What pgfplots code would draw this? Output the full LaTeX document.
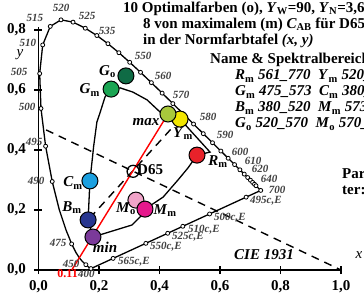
\documentclass[border=0pt]{standalone}
\usepackage{pgfplots}
\pgfplotsset{compat=1.18}
\usepackage{fontspec}
\setmainfont{Liberation Serif}
\definecolor{cGo}{HTML}{0F6B45}
\definecolor{cGm}{HTML}{1BA553}
\definecolor{cmax}{HTML}{A8C83C}
\definecolor{cYm}{HTML}{F2E600}
\definecolor{cRm}{HTML}{E8222A}
\definecolor{cCm}{HTML}{1CA0E0}
\definecolor{cBm}{HTML}{283690}
\definecolor{cmin}{HTML}{7B3A9A}
\definecolor{cMo}{HTML}{F0A3C8}
\definecolor{cMm}{HTML}{E5188C}
\definecolor{wl}{HTML}{404040}
\newcommand{\fs}[1]{\fontsize{#1}{#1}\selectfont}
\newcommand{\lab}[2]{\textbf{\textit{#1}\textsubscript{#2}}}
\pgfplotstableread{
x y
0.1741 0.0050
0.1733 0.0048
0.1726 0.0048
0.1714 0.0051
0.1703 0.0058
0.1689 0.0069
0.1669 0.0086
0.1644 0.0109
0.1611 0.0138
0.1566 0.0177
0.1510 0.0227
0.1440 0.0297
0.1355 0.0399
0.1241 0.0578
0.1096 0.0868
0.0913 0.1327
0.0687 0.2007
0.0454 0.2950
0.0235 0.4127
0.0082 0.5384
0.0039 0.6548
0.0139 0.7502
0.0389 0.8120
0.0743 0.8338
0.1142 0.8262
0.1547 0.8059
0.1929 0.7816
0.2296 0.7543
0.2658 0.7243
0.3016 0.6923
0.3373 0.6589
0.3731 0.6245
0.4087 0.5896
0.4441 0.5547
0.4788 0.5202
0.5125 0.4866
0.5448 0.4544
0.5752 0.4242
0.6029 0.3965
0.6270 0.3725
0.6482 0.3514
0.6658 0.3340
0.6801 0.3197
0.6915 0.3083
0.7006 0.2993
0.7079 0.2920
0.7140 0.2859
0.7190 0.2809
0.7230 0.2770
0.7260 0.2740
0.7300 0.2700
0.7320 0.2680
0.7334 0.2666
0.7347 0.2653
}\locus
\pgfplotstableread{
x y
0.1733 0.0048
0.1566 0.0177
0.1096 0.0868
0.0454 0.2950
0.0235 0.4127
0.0082 0.5384
0.0039 0.6548
0.0139 0.7502
0.0389 0.8120
0.0743 0.8338
0.1142 0.8262
0.1547 0.8059
0.1929 0.7816
0.2296 0.7543
0.2658 0.7243
0.3016 0.6923
0.3373 0.6589
0.3731 0.6245
0.4087 0.5896
0.4441 0.5547
0.4788 0.5202
0.5125 0.4866
0.5448 0.4544
0.5752 0.4242
0.6029 0.3965
0.6270 0.3725
0.6482 0.3514
0.6658 0.3340
0.6801 0.3197
0.6915 0.3083
0.7006 0.2993
0.7079 0.2920
0.7140 0.2859
0.7190 0.2809
0.7347 0.2653
0.2466 0.0387
0.3549 0.0889
0.4270 0.1224
0.4771 0.1457
0.5656 0.1868
0.6863 0.2428
}\marks
\begin{document}
\begin{tikzpicture}
\path[use as bounding box, clip] (0,0) rectangle (364pt,295pt);
\begin{axis}[at={(38.5pt,25pt)}, anchor=origin, x=302.5pt, y=300pt,
  xmin=0, xmax=1, ymin=0, ymax=0.81,
  axis x line=bottom, axis y line=left,
  axis line style={-, line width=1.3pt},
  clip=false,
  xtick={0,0.2,0.4,0.6,0.8,1.0}, ytick={0,0.2,0.4,0.6,0.8},
  xticklabels={{0,0},{0,2},{0,4},{0,6},{0,8},{1,0}},
  yticklabels={{0,0},{0,2},{0,4},{0,6},{0,8}},
  tick align=center, major tick length=8pt,
  tick style={line width=1.3pt, black},
  xticklabel style={font=\bfseries\fs{15}, yshift=-3pt},
  yticklabel style={font=\bfseries\fs{15}, xshift=-5pt},
]
% spectral locus and purple line
\addplot[black, line width=1.3pt] table {\locus};
\addplot[black, line width=1.3pt] coordinates {(0.1741,0.0050) (0.7347,0.2653)};
% optimal colour curves
\addplot[black, line width=1.3pt] coordinates {(0.240,0.603) (0.270,0.607) (0.312,0.593) (0.359,0.567) (0.395,0.533) (0.412,0.517) (0.428,0.520)};
\addplot[black, line width=1.3pt] coordinates {(0.240,0.603) (0.220,0.577) (0.203,0.523) (0.193,0.493) (0.182,0.41) (0.180,0.39) (0.170,0.297) (0.164,0.167) (0.180,0.110)};
\addplot[black, line width=1.3pt] coordinates {(0.180,0.110) (0.309,0.150) (0.336,0.177) (0.352,0.203)};
\addplot[black, line width=1.3pt] coordinates {(0.352,0.203) (0.412,0.243) (0.461,0.300) (0.494,0.340) (0.524,0.383)};
\addplot[black, line width=1.3pt] coordinates {(0.524,0.383) (0.567,0.393) (0.468,0.503)};
% dashed lines
\addplot[black, line width=1.4pt, dash pattern=on 8pt off 6pt] coordinates {(0.025,0.467) (1.0,0.0)};
\addplot[black, line width=1.4pt, dash pattern=on 8pt off 6pt] coordinates {(0.468,0.503) (0.164,0.167)};
% markers on locus
\addplot[only marks, mark=*, mark size=2pt, mark options={fill=white, draw=black, line width=0.8pt}] table {\marks};
% coloured circles
\addplot[only marks, mark=*, mark size=8pt, mark options={fill=cGo, draw=black, line width=1pt}] coordinates {(0.289,0.647)};
\addplot[only marks, mark=*, mark size=8pt, mark options={fill=cGm, draw=black, line width=1pt}] coordinates {(0.240,0.603)};
\addplot[only marks, mark=*, mark size=8pt, mark options={fill=cYm, draw=black, line width=1pt}] coordinates {(0.468,0.503)};
\addplot[only marks, mark=*, mark size=8pt, mark options={fill=cmax, draw=black, line width=1pt}] coordinates {(0.428,0.520)};
\addplot[only marks, mark=*, mark size=8pt, mark options={fill=cRm, draw=black, line width=1pt}] coordinates {(0.524,0.383)};
\addplot[only marks, mark=*, mark size=8pt, mark options={fill=cCm, draw=black, line width=1pt}] coordinates {(0.170,0.297)};
\addplot[only marks, mark=*, mark size=8pt, mark options={fill=cBm, draw=black, line width=1pt}] coordinates {(0.164,0.167)};
\addplot[only marks, mark=*, mark size=8pt, mark options={fill=cmin, draw=black, line width=1pt}] coordinates {(0.180,0.110)};
\addplot[only marks, mark=*, mark size=8pt, mark options={fill=cMo, draw=black, line width=1pt}] coordinates {(0.322,0.233)};
\addplot[only marks, mark=*, mark size=8pt, mark options={fill=cMm, draw=black, line width=1pt}] coordinates {(0.352,0.203)};
% red line
\addplot[red, line width=1.4pt] coordinates {(0.11,0.0) (0.428,0.520)};
% D65
\addplot[only marks, mark=o, mark size=6pt, mark options={draw=black, line width=1.3pt}] coordinates {(0.3127,0.3290)};
\end{axis}
\begin{scope}[x=1pt, y=-1pt, shift={(0,295pt)}]
\tikzset{w/.style={font=\bfseries\itshape\fs{11}, text=wl, inner sep=0pt}}
\node[w] at (35,18) {515};
\node[w] at (61,8) {520};
\node[w] at (87,16) {525};
\node[w] at (107,31) {535};
\node[w] at (143,56) {550};
\node[w] at (163,76) {560};
\node[w] at (181,95) {570};
\node[w] at (208,117) {580};
\node[w] at (225,135) {590};
\node[w] at (240,152) {600};
\node[w] at (253,161) {610};
\node[w] at (260,169) {620};
\node[w] at (269,179) {640};
\node[w] at (277,190) {700};
\node[w] at (28,43) {510};
\node[w] at (19,72) {505};
\node[w] at (27,107) {500};
\node[w] at (34,142) {495};
\node[w] at (36,181) {490};
\node[w] at (58,243) {475};
\node[w] at (71,264) {450};
\node[w, anchor=west] at (78,274) {400};
\node[font=\bfseries\fs{12}, text=red, inner sep=0pt, anchor=east] at (78,274) {0.11};
\node[w, anchor=west] at (118,262) {565c,E};
\node[w, anchor=west] at (150,247) {550c,E};
\node[w, anchor=west] at (172,237) {525c,E};
\node[w, anchor=west] at (188,230) {510c,E};
\node[w, anchor=west] at (214,218) {500c,E};
\node[w, anchor=west] at (250,201) {495c,E};
\tikzset{L/.style={font=\fs{15}, inner sep=0pt}}
\node[L, anchor=east] at (116,72) {\lab{G}{o}};
\node[L, anchor=east] at (100,90) {\lab{G}{m}};
\node[L] at (146,122) {\textbf{\textit{max}}};
\node[L] at (183,134) {\lab{Y}{m}};
\node[L] at (218,162) {\lab{R}{m}};
\node[L] at (73,183) {\lab{C}{m}};
\node[L] at (72,208) {\lab{B}{m}};
\node[L] at (105,247) {\textbf{\textit{min}}};
\node[L] at (126,209) {\lab{M}{o}};
\node[L] at (165,211) {\lab{M}{m}};
\node[L, anchor=west] at (137,170) {\textbf{D65}};
\node[L] at (264,255) {\textbf{\textit{CIE 1931}}};
\node[L] at (359,255) {\textit{x}};
\node[L] at (20,55) {\textit{y}};
\tikzset{T/.style={font=\bfseries\fs{15}, inner sep=0pt, anchor=west}}
\node[T] at (123,9) {10 Optimalfarben (o), \textit{Y}\textsubscript{W}=90, \textit{Y}\textsubscript{N}=3,6};
\node[T] at (143,25) {8 von maximalem (m) \textit{C}\textsubscript{AB} für D65};
\node[T] at (143,41) {in der Normfarbtafel \textit{(x, y)}};
\node[T] at (210,60) {Name \& Spektralbereich};
\node[T] at (235,76) {\textit{R}\textsubscript{m} \textit{561\_770} \ \textit{Y}\textsubscript{m} \textit{520\_770}};
\node[T] at (235,92) {\textit{G}\textsubscript{m} \textit{475\_573} \ \textit{C}\textsubscript{m} \textit{380\_561}};
\node[T] at (235,108) {\textit{B}\textsubscript{m} \textit{380\_520} \ \textit{M}\textsubscript{m} \textit{573\_475}};
\node[T] at (235,124) {\textit{G}\textsubscript{o} \textit{520\_570} \ \textit{M}\textsubscript{o} \textit{570\_520}};
\node[T] at (342,174) {Parame-};
\node[T] at (342,190) {ter:};
\end{scope}
\end{tikzpicture}
\end{document}
